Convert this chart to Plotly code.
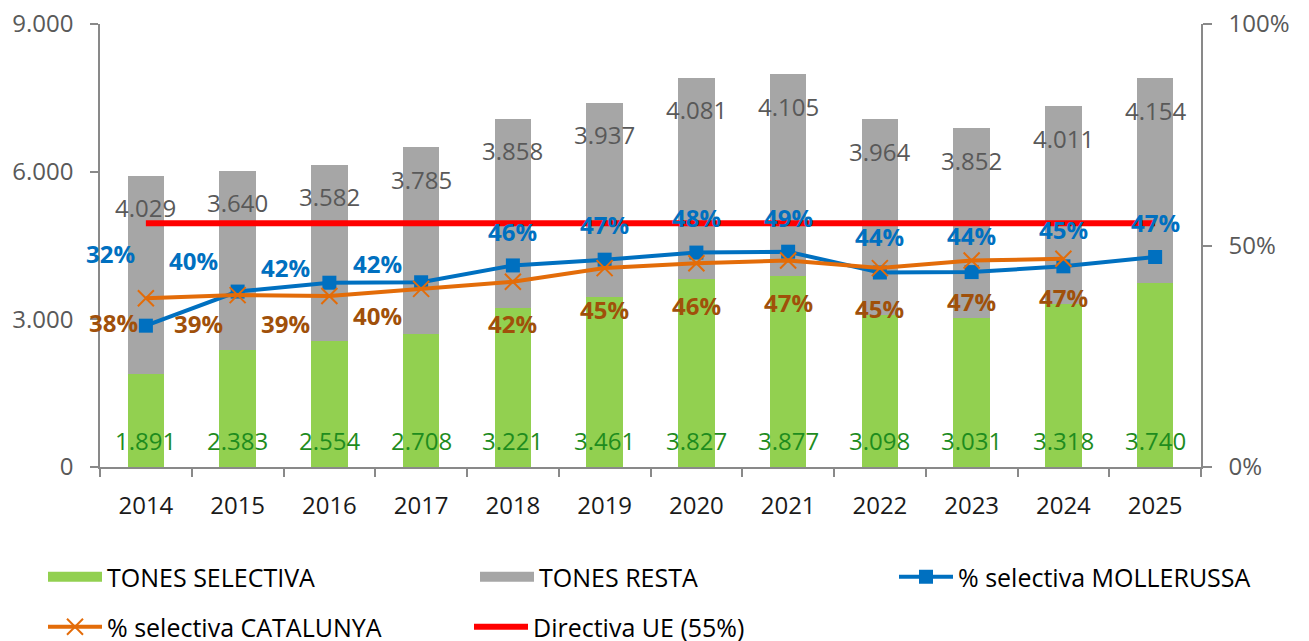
import plotly.graph_objects as go

years = ["2014", "2015", "2016", "2017", "2018", "2019", "2020", "2021", "2022", "2023", "2024", "2025"]
tones_selectiva = [1891, 2383, 2554, 2708, 3221, 3461, 3827, 3877, 3098, 3031, 3318, 3740]
tones_resta = [4029, 3640, 3582, 3785, 3858, 3937, 4081, 4105, 3964, 3852, 4011, 4154]
pct_mollerussa = [0.319, 0.396, 0.416, 0.417, 0.455, 0.468, 0.484, 0.486, 0.439, 0.440, 0.453, 0.474]
pct_catalunya = [0.381, 0.388, 0.386, 0.402, 0.418, 0.449, 0.460, 0.466, 0.449, 0.466, 0.470, None]
directiva_ue = [0.55] * 12

left_ticks = [0, 3000, 6000, 9000]
right_ticks = [0, 0.5, 1.0]

# label offsets in pixels (style only)
moll_dx = [-35, -44, -44, -44, 0, 0, 0, 0, 0, 0, 0, 0]
moll_dy = [72, 31, 15, 19, 34, 35, 35, 34, 36, 37, 37, 35]
cat_dx = [-32, -39, -44, -44, 0, 0, 0, 0, 0, 0, 0, 0]
cat_dy = [-24, -28, -27, -27, -42, -41, -42, -42, -40, -41, -39, 0]

FONT = "Open Sans"
GREEN = "#92D050"
GRAY = "#A6A6A6"
BLUE = "#0070C0"
ORANGE = "#E36C09"
RED = "#FF0000"


def fmt_thousands(v):
    return f"{v:,}".replace(",", ".")


fig = go.Figure()
fig.add_trace(go.Bar(x=years, y=tones_selectiva, name="TONES SELECTIVA",
                     marker=dict(color=GREEN, line=dict(width=0)), showlegend=False))
fig.add_trace(go.Bar(x=years, y=tones_resta, name="TONES RESTA",
                     marker=dict(color=GRAY, line=dict(width=0)), showlegend=False))
# legend swatches for the bar series (no data drawn)
fig.add_trace(go.Scatter(x=[None], y=[None], name="TONES SELECTIVA", mode="lines",
                         line=dict(color=GREEN, width=16), legend="legend", legendrank=1))
fig.add_trace(go.Scatter(x=[None], y=[None], name="TONES RESTA", mode="lines",
                         line=dict(color=GRAY, width=16), legend="legend", legendrank=2))
fig.add_trace(go.Scatter(x=years, y=directiva_ue, name="Directiva UE (55%)", yaxis="y2",
                         mode="lines", line=dict(color=RED, width=6), legend="legend2",
                         legendrank=5))
fig.add_trace(go.Scatter(x=years, y=pct_mollerussa, name="% selectiva MOLLERUSSA", yaxis="y2",
                         mode="lines+markers", line=dict(color=BLUE, width=4),
                         marker=dict(symbol="square", size=14, color=BLUE), legend="legend3",
                         legendrank=3))
fig.add_trace(go.Scatter(x=years, y=pct_catalunya, name="% selectiva CATALUNYA", yaxis="y2",
                         mode="lines+markers", line=dict(color=ORANGE, width=4),
                         marker=dict(symbol="x-thin", size=16, line=dict(color=ORANGE, width=2)),
                         legend="legend2", legendrank=4))

ann = []
for i, yr in enumerate(years):
    total = tones_selectiva[i] + tones_resta[i]
    ann.append(dict(x=i, y=total, xref="x", yref="y", text=fmt_thousands(tones_resta[i]),
                    showarrow=False, yshift=-32, font=dict(family=FONT, size=24, color="#595959")))
    ann.append(dict(x=i, y=0, xref="x", yref="y", text=fmt_thousands(tones_selectiva[i]),
                    showarrow=False, yshift=27, font=dict(family=FONT, size=24, color="#1E8C1E")))
    ann.append(dict(x=i, y=pct_mollerussa[i], xref="x", yref="y2",
                    text=f"{round(pct_mollerussa[i] * 100)}%", showarrow=False,
                    xshift=moll_dx[i], yshift=moll_dy[i],
                    font=dict(family=FONT, size=24, color=BLUE, weight="bold")))
    if pct_catalunya[i] is not None:
        ann.append(dict(x=i, y=pct_catalunya[i], xref="x", yref="y2",
                        text=f"{round(pct_catalunya[i] * 100)}%", showarrow=False,
                        xshift=cat_dx[i], yshift=cat_dy[i],
                        font=dict(family=FONT, size=24, color="#A0500A", weight="bold")))

legend_common = dict(orientation="h", xanchor="left", yanchor="middle",
                     font=dict(family=FONT, size=25, color="#000000"),
                     itemwidth=54, tracegroupgap=0, traceorder="normal",
                     bgcolor="rgba(0,0,0,0)")

fig.update_layout(
    width=1309, height=641,
    margin=dict(l=100, r=108, t=24, b=174, autoexpand=False),
    paper_bgcolor="white", plot_bgcolor="white",
    barmode="stack", bargap=0.6,
    separators=",.",
    font=dict(family=FONT, size=22, color="#595959"),
    showlegend=True,
    legend=dict(x=(43 - 100) / 1101, y=-(577 - 467) / 443, entrywidth=363, **legend_common),
    legend3=dict(x=(894 - 100) / 1101, y=-(577 - 467) / 443, **legend_common),
    legend2=dict(x=(43 - 100) / 1101, y=-(627 - 467) / 443, entrywidth=357, **legend_common),
    xaxis=dict(type="category", range=[-0.5, 11.5], showline=True, linecolor="#898989",
               linewidth=1.5, ticks="outside", tickson="boundaries", ticklen=8,
               tickcolor="#898989", tickwidth=1.5, ticklabelstandoff=16, automargin=False,
               tickfont=dict(family=FONT, size=24, color="#1A1A1A"), showgrid=False),
    yaxis=dict(range=[0, 9000], tickvals=left_ticks, tickformat=",d", showline=True,
               linecolor="#898989", linewidth=1.5, ticks="outside", ticklen=8, automargin=False,
               tickcolor="#898989", tickwidth=1.5, showgrid=False, zeroline=False,
               tickfont=dict(family=FONT, size=24, color="#595959"), ticklabelstandoff=12),
    yaxis2=dict(range=[0, 1], tickvals=right_ticks, tickformat=".0%", overlaying="y", side="right",
                showline=True, linecolor="#898989", linewidth=1.5, ticks="outside", ticklen=9,
                tickcolor="#898989", tickwidth=1.5, showgrid=False, zeroline=False, automargin=False,
                tickfont=dict(family=FONT, size=24, color="#595959"), ticklabelstandoff=12),
    annotations=ann,
)

fig.write_html("out.html", config={"displayModeBar": False},
               post_script="document.body.style.margin='0px';")
